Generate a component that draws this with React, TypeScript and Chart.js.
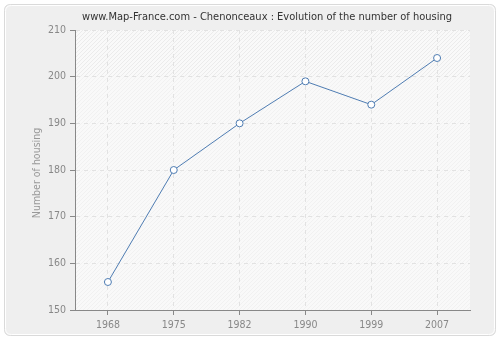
import React, { useEffect, useRef } from "react";
import { Chart, registerables } from "chart.js";

Chart.register(...registerables);

const titleText = "www.Map-France.com - Chenonceaux : Evolution of the number of housing";
const yAxisTitle = "Number of housing";
const years = ["1968", "1975", "1982", "1990", "1999", "2007"];
const housing = [156, 180, 190, 199, 194, 204];
const yMin = 150;
const yMax = 210;
const yStep = 10;

const FONT = "'DejaVu Sans Condensed', 'Liberation Sans', sans-serif";

const decorPlugin = {
  id: "decor",
  beforeDraw(chart: any) {
    const { ctx, chartArea, scales } = chart;
    ctx.save();
    ctx.fillStyle = "#ffffff";
    ctx.fillRect(0, 0, chart.width, chart.height);
    const r = 6;
    const rr = (x: number, y: number, w: number, h: number) => {
      ctx.beginPath();
      ctx.moveTo(x + r, y);
      ctx.lineTo(x + w - r, y);
      ctx.quadraticCurveTo(x + w, y, x + w, y + r);
      ctx.lineTo(x + w, y + h - r);
      ctx.quadraticCurveTo(x + w, y + h, x + w - r, y + h);
      ctx.lineTo(x + r, y + h);
      ctx.quadraticCurveTo(x, y + h, x, y + h - r);
      ctx.lineTo(x, y + r);
      ctx.quadraticCurveTo(x, y, x + r, y);
      ctx.closePath();
    };
    rr(4.5, 4.5, 491, 331);
    ctx.fillStyle = "#efefef";
    ctx.fill();
    ctx.strokeStyle = "#dadada";
    ctx.lineWidth = 1;
    ctx.stroke();
    rr(5.5, 5.5, 489, 329);
    ctx.strokeStyle = "#ffffff";
    ctx.stroke();

    const { left, right, top, bottom } = chartArea;
    ctx.fillStyle = "#f9f9f9";
    ctx.fillRect(left, top, right - left, bottom - top);
    const y200 = scales.y.getPixelForValue(200);
    const drawHatch = (t: number, b: number, color: string) => {
      ctx.save();
      ctx.beginPath();
      ctx.rect(left, t, right - left, b - t);
      ctx.clip();
      ctx.strokeStyle = color;
      ctx.lineWidth = 1;
      ctx.beginPath();
      const h = bottom - top;
      for (let x = left - h; x < right + h; x += 4) {
        ctx.moveTo(x, bottom);
        ctx.lineTo(x + h, top);
      }
      ctx.stroke();
      ctx.restore();
    };
    drawHatch(top, y200, "rgba(0,0,0,0.055)");
    drawHatch(y200, bottom, "rgba(0,0,0,0.03)");
    ctx.restore();
  },
  afterDraw(chart: any) {
    const { ctx, chartArea } = chart;
    ctx.save();
    ctx.fillStyle = "#333333";
    ctx.font = `11px ${FONT}`;
    ctx.textAlign = "center";
    ctx.textBaseline = "middle";
    ctx.fillText(titleText, 267, 17);
    ctx.translate(37, (chartArea.top + chartArea.bottom) / 2 + 3);
    ctx.rotate(-Math.PI / 2);
    ctx.fillStyle = "#999999";
    ctx.font = `10.5px ${FONT}`;
    ctx.fillText(yAxisTitle, 0, 0);
    ctx.restore();
  },
};

export default function App() {
  const ref = useRef<HTMLCanvasElement | null>(null);
  useEffect(() => {
    document.body.style.margin = "0";
    const chart = new Chart(ref.current as HTMLCanvasElement, {
      type: "line",
      data: {
        labels: years,
        datasets: [
          {
            data: housing,
            borderColor: "#4f7db3",
            borderWidth: 1,
            pointRadius: 3.5,
            pointBorderWidth: 1,
            pointBackgroundColor: "#ffffff",
            pointBorderColor: "#4f7db3",
            tension: 0,
          },
        ],
      },
      options: {
        animation: false,
        responsive: false,
        maintainAspectRatio: false,
        layout: { padding: { top: 30, right: 30, left: 0, bottom: 0 } },
        plugins: { legend: { display: false }, title: { display: false }, tooltip: { enabled: false } },
        scales: {
          x: {
            type: "category",
            offset: true,
            grid: {
              offset: false,
              color: "#e2e2e2",
              tickColor: "#888888",
              tickLength: 5,
              drawTicks: true,
            },
            border: { display: true, color: "#888888", dash: [4, 4] },
            ticks: { color: "#888888", font: { family: FONT, size: 10.5 }, padding: 4, maxRotation: 0 },
            afterFit: (s: any) => {
              s.height = 30;
            },
          },
          y: {
            min: yMin,
            max: yMax,
            grid: {
              color: "#e2e2e2",
              tickColor: "#888888",
              tickLength: 5,
              drawTicks: true,
            },
            border: { display: true, color: "#888888", dash: [4, 4] },
            ticks: { stepSize: yStep, color: "#888888", font: { family: FONT, size: 10.5 }, padding: 4 },
            afterFit: (s: any) => {
              s.width = 75;
            },
          },
        },
      },
      plugins: [decorPlugin],
    });
    return () => chart.destroy();
  }, []);
  return (
    <div style={{ position: "absolute", left: 0, top: 0, width: 500, height: 340 }}>
      <canvas ref={ref} width={500} height={340} style={{ width: 500, height: 340 }} />
    </div>
  );
}
